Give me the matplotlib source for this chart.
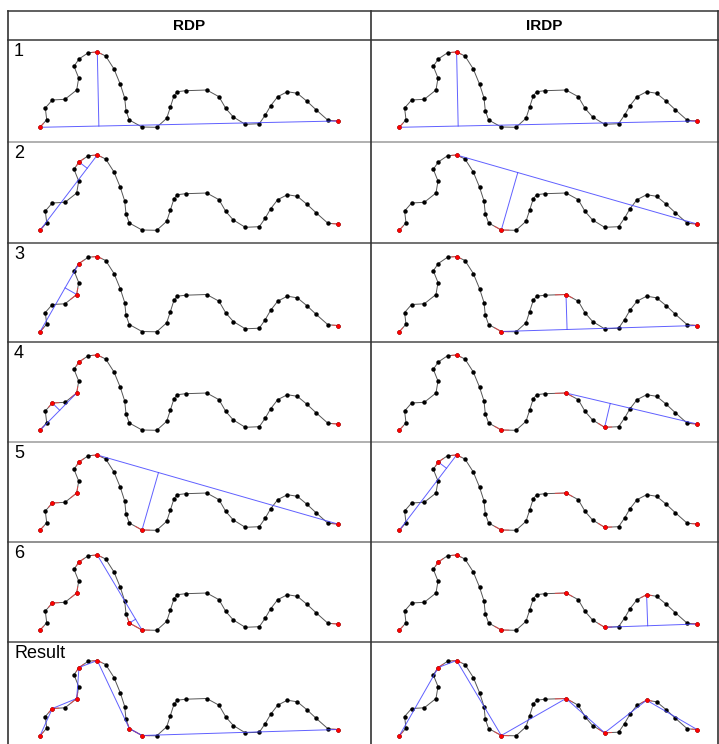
import numpy as np
import matplotlib
matplotlib.use("Agg")
import matplotlib.pyplot as plt

plt.rcParams['font.family'] = ['Liberation Sans', 'DejaVu Sans']

# curve vertices (x to the right, y upwards)
curve_x = [30.0, 36.7, 35.3, 42.3, 55.0, 66.7, 68.7, 64.0, 69.0, 78.3,
           87.3, 95.7, 104.0, 110.3, 114.7, 116.0, 119.3, 132.0, 146.7, 156.7,
           160.3, 164.0, 167.3, 175.7, 196.7, 209.0, 215.7, 223.3, 235.3, 249.3,
           255.3, 260.7, 267.7, 277.3, 287.3, 297.0, 306.0, 318.0, 327.7]
curve_y = [1.7, 9.3, 21.0, 29.0, 29.7, 39.0, 51.0, 62.7, 70.0, 76.3,
           77.0, 73.0, 60.0, 44.7, 31.0, 18.3, 9.0, 2.0, 1.7, 10.7,
           21.7, 33.3, 37.3, 38.3, 39.0, 32.3, 20.7, 12.0, 4.7, 5.3,
           14.0, 23.3, 32.3, 37.3, 35.7, 27.7, 19.3, 8.7, 8.0]

col_titles = ["RDP", "IRDP"]
row_labels = ["1", "2", "3", "4", "5", "6", "Result"]

# step-by-step state: kept points, current chord, farthest point
rdp_red = [[0, 10, 38], [0, 8, 10, 38], [0, 5, 8, 10, 38], [0, 3, 5, 8, 10, 38],
           [0, 3, 5, 8, 10, 17, 38], [0, 3, 5, 8, 10, 16, 17, 38]]
rdp_chord = [(0, 38), (0, 10), (0, 8), (0, 5), (10, 38), (10, 17)]
rdp_far = [10, 8, 5, 3, 17, 16]
rdp_result = [0, 3, 5, 8, 10, 16, 17, 38]

irdp_red = [[0, 10, 38], [0, 10, 17, 38], [0, 10, 17, 24, 38], [0, 10, 17, 24, 28, 38],
            [0, 8, 10, 17, 24, 28, 38], [0, 8, 10, 17, 24, 28, 33, 38]]
irdp_chord = [(0, 38), (10, 38), (17, 38), (24, 38), (0, 10), (28, 38)]
irdp_far = [10, 17, 24, 28, 8, 33]
irdp_result = [0, 8, 10, 17, 24, 28, 33, 38]

# table layout in pixels
W, H = 719, 744
row_edges = [40, 142, 243, 342, 442, 542, 642, 744]
row_base = [89, 90, 90.5, 90, 90, 90, 95.5]
col_edges = [8, 371, 718]
col_dx = [2, -1.7]
row_line_colors = ['#555555', '#aaaaaa', '#666666', '#666666', '#aaaaaa', '#888888', '#666666']

cx = np.array(curve_x)
cy = np.array(curve_y)

fig = plt.figure(figsize=(W / 100, H / 100), dpi=100)
bg = fig.add_axes([0, 0, 1, 1])
bg.set_xlim(0, W)
bg.set_ylim(H, 0)
bg.axis('off')

# table grid
bg.plot([col_edges[0], col_edges[2]], [11, 11], color='#444444', lw=1.2)
for yy, c in zip(row_edges[:-1], row_line_colors):
    bg.plot([col_edges[0], col_edges[2]], [yy, yy], color=c, lw=1.3)
for xx in col_edges:
    bg.plot([xx, xx], [11, H], color='#333333', lw=1.2)

for i, t in enumerate(col_titles):
    bg.text((col_edges[i] + col_edges[i + 1]) / 2, 25.5, t, ha='center', va='center',
            fontsize=11, fontweight='bold')
for r, lab in enumerate(row_labels):
    bg.text(col_edges[0] + 6, row_edges[r] + 3, lab, ha='left', va='top', fontsize=13)


def draw_cell(ax, red, chord=None, far=None, path=None):
    ax.plot(cx, cy, color='#555555', lw=0.7, zorder=1)
    # red tint on curve segments next to kept points
    for k in red:
        for n in (k - 1, k + 1):
            if 0 <= n < len(cx):
                ax.plot([cx[k], (cx[k] + cx[n]) / 2], [cy[k], (cy[k] + cy[n]) / 2],
                        color='#ff4040', lw=0.8, alpha=0.7, zorder=2)
    ax.plot(cx, cy, 'o', color='black', ms=3.2, mew=0, zorder=3)
    if chord is not None:
        a, b = chord
        p, q = np.array([cx[a], cy[a]]), np.array([cx[b], cy[b]])
        f = np.array([cx[far], cy[far]])
        t = np.dot(f - p, q - p) / np.dot(q - p, q - p)
        foot = p + t * (q - p)
        ax.plot([p[0], q[0]], [p[1], q[1]], color='#4444ff', lw=0.7, alpha=0.85, zorder=4)
        ax.plot([f[0], foot[0]], [f[1], foot[1]], color='#4444ff', lw=0.7, alpha=0.85, zorder=4)
    if path is not None:
        ax.plot(cx[path], cy[path], color='#4444ff', lw=0.7, alpha=0.85, zorder=4)
    ax.plot(cx[red], cy[red], 'o', color='#ff0000', ms=3.2, mew=0, zorder=5)


for r in range(7):
    top, bot = row_edges[r], row_edges[r + 1]
    h = bot - top
    for c in range(2):
        left, right = col_edges[c], col_edges[c + 1]
        w = right - left
        ax = fig.add_axes([left / W, 1 - bot / H, w / W, h / H])
        ax.patch.set_alpha(0)
        ax.axis('off')
        ax.set_xlim(-col_dx[c], w - col_dx[c])
        ax.set_ylim(row_base[r] - h, row_base[r])
        if r < 6:
            if c == 0:
                draw_cell(ax, rdp_red[r], rdp_chord[r], rdp_far[r])
            else:
                draw_cell(ax, irdp_red[r], irdp_chord[r], irdp_far[r])
        else:
            if c == 0:
                draw_cell(ax, rdp_result, path=rdp_result)
            else:
                draw_cell(ax, irdp_result, path=irdp_result)

fig.savefig('out.png', dpi=100)
